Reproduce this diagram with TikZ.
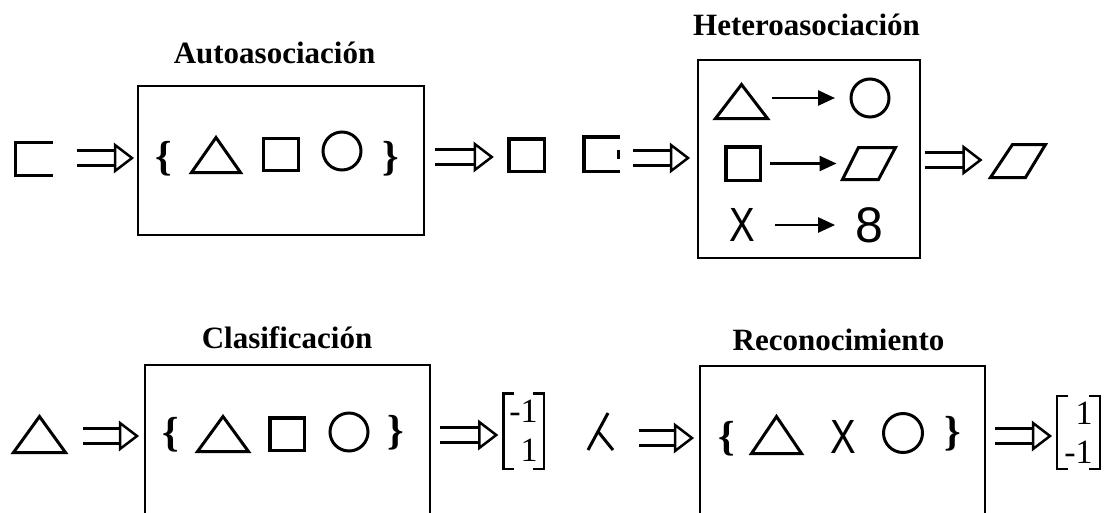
\documentclass[tikz,border=0pt]{standalone}
\usepackage{fontspec}
\setmainfont{Liberation Serif}
\newfontfamily\sansf{Liberation Sans}
\usetikzlibrary{calc,arrows.meta}
\tikzset{
  every node/.style={inner sep=0pt, outer sep=0pt},
  title/.style={font=\fontsize{31}{36}\selectfont\bfseries, anchor=base},
  brace/.style={font=\fontsize{42}{46}\selectfont\bfseries},
  box/.style={draw, line width=2pt, rectangle},
  shp/.style={line width=3pt, line join=miter},
  sqline/.style={line width=3.5pt, line join=miter},
  circ/.style={circle, draw, line width=3pt, minimum size=38pt},
  dshaft/.style={line width=3.5pt},
  dhead/.style={line width=2.5pt, fill=white, line join=miter},
  harr/.style={line width=2.5pt, -{Triangle[length=17pt,width=15pt]}},
  vec/.style={align=right, font=\fontsize{34}{39}\selectfont},
  brk/.style={line width=2.5pt},
  bigsans/.style={font=\sansf\fontsize{48}{50}\selectfont}
}
\newcommand{\dblarrow}[2]{%
  \draw[dshaft] ($(#1)+(0,-7.5)$) -- ($(#2)+(-17,-7.5)$)
                ($(#1)+(0,7.5)$) -- ($(#2)+(-17,7.5)$);
  \draw[dhead] ($(#2)+(-17,-13)$) -- (#2) -- ($(#2)+(-17,13)$) -- cycle;
}
\begin{document}
\begin{tikzpicture}[x=1pt,y=-1pt]
\useasboundingbox (0,0) rectangle (1105,512);
\fill[white] (0,0) rectangle (1105,512);
\clip (0,0) rectangle (1105,512);

% ---------- Autoasociacion ----------
\node[minimum width=37pt, minimum height=33pt] (in1) at (34,159) {};
\draw[sqline] (in1.north east) -- (in1.north west) -- (in1.south west) -- (in1.south east);

\node[box, minimum width=286pt, minimum height=149pt] (b1) at (281,160.5) {};
\node[title] (t1) at (274.5,63) {Autoasociación};
\node[brace] (lb1) at (164,158.5) {\{};
\node[minimum width=49pt, minimum height=35pt] (ta) at (216,155) {};
\draw[shp] (ta.south west) -- (ta.north) -- (ta.south east) -- cycle;
\node[draw, sqline, minimum width=35pt, minimum height=32pt] (sa) at (281,154.5) {};
\node[circ] (ca) at (342,151) {};
\node[brace] (rb1) at (391,158.5) {\}};

\node[draw, sqline, minimum width=35.5pt, minimum height=32.5pt] (out1) at (526.5,155) {};

\path (in1.east) ++(24,-1) coordinate (a1s);
\path (b1.west |- a1s) ++(-6,0) coordinate (a1e);
\dblarrow{a1s}{a1e}
\path (b1.east |- out1) ++(11,2) coordinate (a2s);
\path (out1.west |- a2s) ++(-17,0) coordinate (a2e);
\dblarrow{a2s}{a2e}

% ---------- Heteroasociacion ----------
\node[minimum width=36pt, minimum height=34.5pt] (in2) at (602,154) {};
\draw[sqline] (in2.north east) -- (in2.north west) -- (in2.south west) -- (in2.south east);
\draw[sqline] ($(in2.east)+(-1.5,-4.5)$) -- ($(in2.east)+(-1.5,4.5)$);

\node[box, minimum width=222pt, minimum height=198pt] (b2) at (809,159) {};
\node[title] (t2) at (806.5,35) {Heteroasociación};

\node[minimum width=52pt, minimum height=34pt] (th) at (741.5,101.5) {};
\draw[shp] (th.south west) -- (th.north) -- (th.south east) -- cycle;
\node[circ] (ch) at (870,98) {};
\draw[harr, shorten <=4.5pt, shorten >=16pt] (th.east |- ch.center) -- (ch.west);

\node[draw, sqline, minimum width=34.5pt, minimum height=33.5pt] (sh) at (743,163.5) {};
\node[minimum width=53pt, minimum height=32pt] (ph) at (869,163.5) {};
\draw[shp] (ph.south west) -- ($(ph.north west)+(16,0)$) -- (ph.north east) -- ($(ph.south east)+(-17,0)$) -- cycle;
\draw[harr, shorten <=9.5pt, shorten >=6pt] (sh.east |- ph.west) -- (ph.west);

\node[bigsans] (xh) at (742,224.5) {\scalebox{0.8}[1]{X}};
\node[font=\sansf\fontsize{50}{52}\selectfont] (eh) at (869,225) {8};
\draw[harr, shorten <=20pt, shorten >=20pt] (xh.east |- eh.west) -- (eh.west);

\node[minimum width=55pt, minimum height=33pt] (out2) at (1018,161) {};
\draw[shp] (out2.south west) -- ($(out2.north west)+(22,0)$) -- (out2.north east) -- ($(out2.south east)+(-20,0)$) -- cycle;

\path (in2.east) ++(13,4) coordinate (a3s);
\path (b2.west |- a3s) ++(-10,0) coordinate (a3e);
\dblarrow{a3s}{a3e}
\path (b2.east) ++(5,1) coordinate (a4s);
\path (out2.west |- a4s) ++(-10,0) coordinate (a4e);
\dblarrow{a4s}{a4e}

% ---------- Clasificacion ----------
\node[minimum width=52pt, minimum height=36pt] (in3) at (39.5,434.5) {};
\draw[shp] (in3.south west) -- (in3.north) -- (in3.south east) -- cycle;

\node[box, minimum width=285pt, minimum height=175pt] (b3) at (287.5,452.5) {};
\node[title] (t3) at (287,348) {Clasificación};
\node[brace] (lb3) at (171,435) {\{};
\node[minimum width=51pt, minimum height=35pt] (tc) at (223,434) {};
\draw[shp] (tc.south west) -- (tc.north) -- (tc.south east) -- cycle;
\node[draw, sqline, minimum width=34.5pt, minimum height=32.5pt] (sc) at (287,434) {};
\node[circ] (cc) at (349,432) {};
\node[brace] (rb3) at (396,432.5) {\}};

\node[vec, minimum width=40.5pt, minimum height=75.5pt] (v1) at (523.5,431) {-1\\1};
\draw[brk] ($(v1.north west)+(11,0)$) -- (v1.north west) -- (v1.south west) -- ($(v1.south west)+(11,0)$);
\draw[brk] ($(v1.north east)+(-11,0)$) -- (v1.north east) -- (v1.south east) -- ($(v1.south east)+(-11,0)$);

\path (in3.east) ++(17.5,1.5) coordinate (b1s);
\path (b3.west |- b1s) ++(-8,0) coordinate (b1e);
\dblarrow{b1s}{b1e}
\path (b3.east |- v1) ++(10,4) coordinate (b2s);
\path (v1.west |- b2s) ++(-7,0) coordinate (b2e);
\dblarrow{b2s}{b2e}

% ---------- Reconocimiento ----------
\node[minimum width=25pt, minimum height=37pt] (in4) at (600.5,431.5) {};
\draw[shp] ($(in4.north east)+(-5,0)$) -- (in4.south west);
\draw[shp] ($($(in4.north east)+(-5,0)$)!0.5!(in4.south west)$) -- (in4.south east);

\node[box, minimum width=285pt, minimum height=174pt] (b4) at (842.5,453) {};
\node[title] (t4) at (838.5,350) {Reconocimiento};
\node[brace] (lb4) at (727,439) {\{};
\node[minimum width=50pt, minimum height=37pt] (tr) at (776.5,435) {};
\draw[shp] (tr.south west) -- (tr.north) -- (tr.south east) -- cycle;
\node[bigsans] (xr) at (843.5,437) {\scalebox{0.8}[1]{X}};
\node[circ, minimum size=39pt] (cr) at (903,433) {};
\node[brace] (rb4) at (953,433.5) {\}};

\node[vec, minimum width=43pt, minimum height=73pt] (v2) at (1078.5,432.5) {1\\-1};
\draw[brk] ($(v2.north west)+(11,0)$) -- (v2.north west) -- (v2.south west) -- ($(v2.south west)+(11,0)$);
\draw[brk] ($(v2.north east)+(-11,0)$) -- (v2.north east) -- (v2.south east) -- ($(v2.south east)+(-11,0)$);

\path (in4.east) ++(26,6.5) coordinate (b3s);
\path (b4.west |- b3s) ++(-8,0) coordinate (b3e);
\dblarrow{b3s}{b3e}
\path (b4.east |- v2) ++(10,3.5) coordinate (b4s);
\path (v2.west |- b4s) ++(-7,0) coordinate (b4e);
\dblarrow{b4s}{b4e}
\end{tikzpicture}
\end{document}
